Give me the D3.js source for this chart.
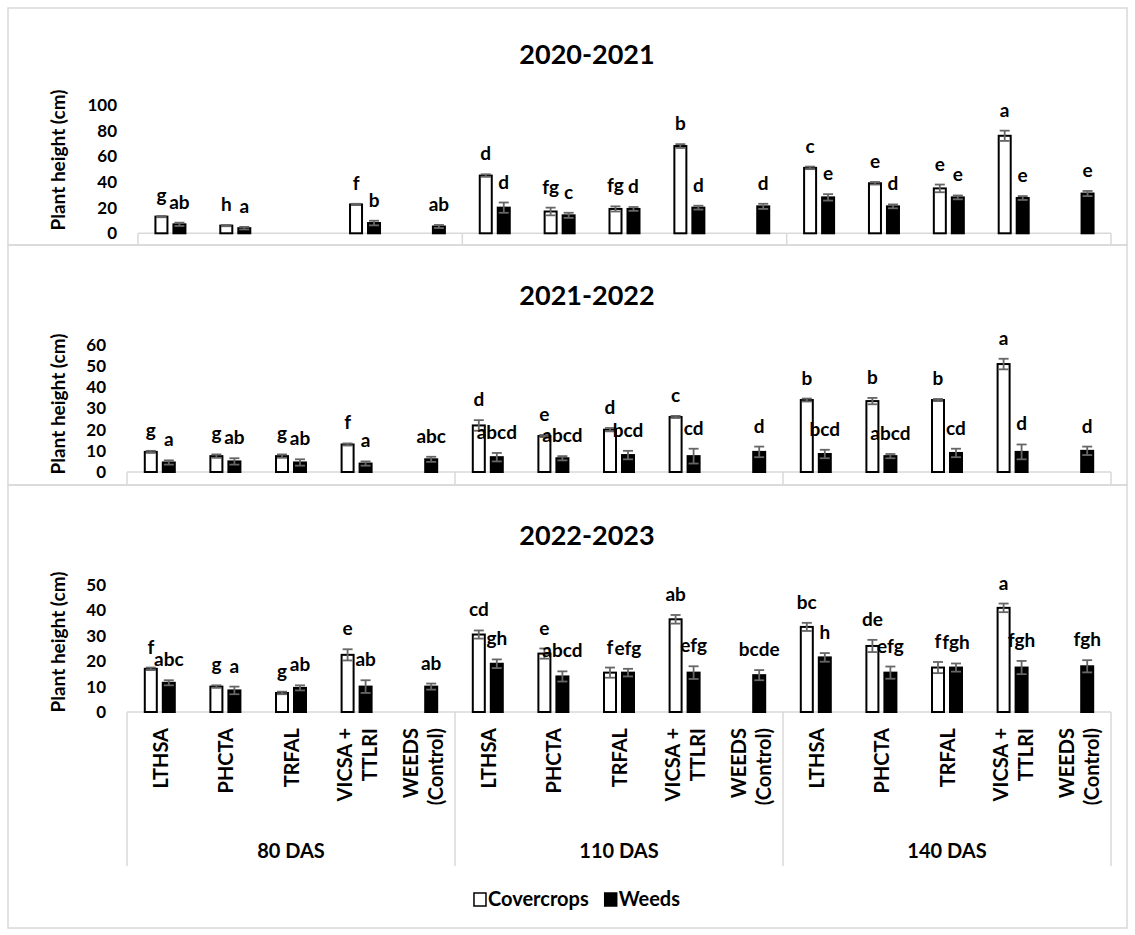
<!DOCTYPE html>
<html>
<head>
<meta charset="utf-8">
<script src="https://cdn.jsdelivr.net/npm/d3@7"></script>
<style>
  body { margin: 0; background: #fff; }
  text { font-family: Lato, "Open Sans", sans-serif; font-weight: 700; fill: #000; }
</style>
</head>
<body>
<svg id="chart" width="1135" height="935"></svg>
<script>
// ---- categories ----
const groups = ["80 DAS", "110 DAS", "140 DAS"];
const treatments = ["LTHSA", "PHCTA", "TRFAL", "VICSA + TTLRI", "WEEDS (Control)"];
const treatmentLines = [["LTHSA"], ["PHCTA"], ["TRFAL"], ["VICSA +", "TTLRI"], ["WEEDS", "(Control)"]];
const series = ["Covercrops", "Weeds"];
const seasons = ["2020-2021", "2021-2022", "2022-2023"];

// ---- tick labels ----
const ticks2020 = [0, 20, 40, 60, 80, 100];
const ticks2021 = [0, 10, 20, 30, 40, 50, 60];
const ticks2022 = [0, 10, 20, 30, 40, 50];

// ---- 2020-2021 (order: 80 DAS x5, 110 DAS x5, 140 DAS x5) ----
const cover2020    = [13, 6, null, 22.5, null, 45, 17, 19, 68, null, 51, 39, 35, 76, null];
const coverErr2020 = [0.5, 0.5, null, 0.5, null, 1, 3, 2, 1.5, null, 1, 1, 3, 4, null];
const weeds2020    = [7, 4, null, 8, 5.3, 20, 14, 19, 20, 21, 28, 21, 28, 27.5, 31];
const weedsErr2020 = [1.3, 1, null, 1.8, 1.2, 4, 2, 1.5, 1.5, 2, 2.5, 1.5, 1.5, 1.5, 2];
const coverLet2020 = ["g", "h", "", "f", "", "d", "fg", "fg", "b", "", "c", "e", "e", "a", ""];
const weedsLet2020 = ["ab", "a", "", "b", "ab", "d", "c", "d", "d", "d", "e", "d", "e", "e", "e"];

// ---- 2021-2022 ----
const cover2021    = [9.5, 7.5, 7.5, 13, null, 22, 17, 20, 26, null, 34, 33.5, 34, 51, null];
const coverErr2021 = [0.5, 0.8, 0.8, 0.5, null, 2.5, 0.5, 0.8, 0.5, null, 0.7, 1.5, 0.5, 2.5, null];
const weeds2021    = [4.5, 5, 4.5, 4, 6, 7, 6.5, 8, 7.5, 9.5, 8.5, 7.5, 9, 9.5, 10];
const weedsErr2021 = [1, 1.5, 1.5, 1, 1.2, 2, 1, 2, 3.5, 2.5, 2, 1, 2, 3.5, 2];
const coverLet2021 = ["g", "g", "g", "f", "", "d", "e", "d", "c", "", "b", "b", "b", "a", ""];
const weedsLet2021 = ["a", "ab", "ab", "a", "abc", "abcd", "abcd", "bcd", "cd", "d", "bcd", "abcd", "cd", "d", "d"];

// ---- 2022-2023 ----
const cover2022    = [17, 10, 7.5, 22.5, null, 30.5, 23, 15.5, 36.5, null, 33.5, 26, 17.5, 41, null];
const coverErr2022 = [0.5, 0.5, 0.5, 2.2, null, 1.6, 2, 2, 1.7, null, 1.6, 2.4, 2.2, 1.7, null];
const weeds2022    = [11.5, 8.5, 9.5, 10, 10, 19, 14, 15.5, 15.5, 14.5, 21.5, 15.5, 17.5, 17.5, 18];
const weedsErr2022 = [1, 1.5, 1, 2.5, 1.2, 1.7, 2, 1.5, 2.5, 2, 1.7, 2.4, 1.6, 2.6, 2.4];
const coverLet2022 = ["f", "g", "g", "e", "", "cd", "e", "f", "ab", "", "bc", "de", "f", "a", ""];
const weedsLet2022 = ["abc", "a", "ab", "ab", "ab", "gh", "abcd", "efg", "efg", "bcde", "h", "efg", "fgh", "fgh", "fgh"];

const seasonData = [
  { cover: cover2020, coverErr: coverErr2020, weeds: weeds2020, weedsErr: weedsErr2020, coverLet: coverLet2020, weedsLet: weedsLet2020, ticks: ticks2020 },
  { cover: cover2021, coverErr: coverErr2021, weeds: weeds2021, weedsErr: weedsErr2021, coverLet: coverLet2021, weedsLet: weedsLet2021, ticks: ticks2021 },
  { cover: cover2022, coverErr: coverErr2022, weeds: weeds2022, weedsErr: weedsErr2022, coverLet: coverLet2022, weedsLet: weedsLet2022, ticks: ticks2022 }
];

// ---- panel geometry ----
const panelLayout = [
  { top: 8,   bottom: 245, left: 138, base: 233.3, peak: 105, titleY: 64,  labelY: 160 },
  { top: 245, bottom: 485, left: 127, base: 472,   peak: 345, titleY: 305, labelY: 404 },
  { top: 485, bottom: 928, left: 127, base: 712,   peak: 585, titleY: 545, labelY: 642 }
];
const frameLeft = 8, frameRight = 1127, plotRight = 1111;
const gridGray = "#d9d9d9";
const errColor = "#666";

const svg = d3.select("#chart");

seasons.forEach((season, p) => {
  const L = panelLayout[p];
  const D = seasonData[p];
  const g = svg.append("g");

  // panel frame
  g.append("rect")
    .attr("x", frameLeft).attr("y", L.top)
    .attr("width", frameRight - frameLeft).attr("height", L.bottom - L.top)
    .attr("fill", "none").attr("stroke", gridGray).attr("stroke-width", 1.5);

  const x0 = d3.scaleBand().domain(groups).range([L.left, plotRight]).paddingInner(0).paddingOuter(0);
  const x1 = d3.scaleBand().domain(treatments).range([0, x0.bandwidth()]);
  const x2 = d3.scaleBand().domain(series).range([-15, 15]).paddingInner(1 / 3);
  const yMax = D.ticks[D.ticks.length - 1];
  const y = d3.scaleLinear().domain([0, yMax]).range([L.base, L.peak]);

  // title
  g.append("text").attr("x", 587).attr("y", L.titleY)
    .attr("text-anchor", "middle").style("font-size", "27px").text(season);

  // y-axis title
  g.append("text")
    .attr("transform", `translate(57,${L.labelY}) rotate(-90)`)
    .attr("text-anchor", "middle").attr("dominant-baseline", "central")
    .style("font-size", "19px").text("Plant height (cm)");

  // y axis (labels only)
  const ay = g.append("g").attr("transform", `translate(${L.left},0)`)
    .call(d3.axisLeft(y).tickValues(D.ticks).tickSize(0).tickPadding(21).tickFormat(d3.format("d")));
  ay.select(".domain").remove();
  ay.selectAll("text").style("font-size", "17px").style("font-family", "Lato, 'Open Sans', sans-serif")
    .style("font-weight", 700).attr("fill", "#000");

  // category axis frame: baseline + group separators
  const sepBottom = p === 2 ? 866 : L.bottom;
  g.append("line").attr("x1", L.left).attr("x2", plotRight)
    .attr("y1", L.base).attr("y2", L.base).attr("stroke", gridGray).attr("stroke-width", 1.5);
  const seps = groups.map(gr => x0(gr)).concat([plotRight]);
  g.selectAll(".sep").data(seps).join("line")
    .attr("x1", d => d).attr("x2", d => d)
    .attr("y1", L.base).attr("y2", sepBottom)
    .attr("stroke", gridGray).attr("stroke-width", 1.5);

  // flattened rows
  const rows = [];
  groups.forEach((gr, gi) => treatments.forEach((tr, ti) => {
    const i = gi * treatments.length + ti;
    rows.push({ group: gr, treat: tr, s: "Covercrops", v: D.cover[i], e: D.coverErr[i], lab: D.coverLet[i] });
    rows.push({ group: gr, treat: tr, s: "Weeds", v: D.weeds[i], e: D.weedsErr[i], lab: D.weedsLet[i] });
  }));
  const present = rows.filter(r => r.v !== null);
  const cx = r => x0(r.group) + x1(r.treat) + x1.bandwidth() / 2 + x2(r.s) + x2.bandwidth() / 2;

  // bars
  g.selectAll(".bar").data(present).join("rect")
    .attr("x", r => cx(r) - x2.bandwidth() / 2)
    .attr("width", x2.bandwidth())
    .attr("y", r => y(r.v))
    .attr("height", r => y(0) - y(r.v))
    .attr("fill", r => r.s === "Covercrops" ? "#fff" : "#000")
    .attr("stroke", "#000").attr("stroke-width", 2);

  // error bars
  const capW = 5;
  const eb = g.selectAll(".err").data(present).join("g").attr("stroke", errColor).attr("stroke-width", 1.8);
  eb.append("line").attr("x1", cx).attr("x2", cx)
    .attr("y1", r => y(Math.max(0, r.v - r.e))).attr("y2", r => y(r.v + r.e));
  eb.append("line").attr("x1", r => cx(r) - capW).attr("x2", r => cx(r) + capW)
    .attr("y1", r => y(r.v + r.e)).attr("y2", r => y(r.v + r.e));
  eb.append("line").attr("x1", r => cx(r) - capW).attr("x2", r => cx(r) + capW)
    .attr("y1", r => y(Math.max(0, r.v - r.e))).attr("y2", r => y(Math.max(0, r.v - r.e)));

  // significance letters
  g.selectAll(".lab").data(present.filter(r => r.lab)).join("text")
    .attr("x", cx).attr("y", r => y(r.v + r.e) - 14)
    .attr("text-anchor", "middle").style("font-size", "19px")
    .text(r => r.lab);

  // category labels shown on the bottom panel
  if (p === 2) {
    groups.forEach(gr => {
      treatments.forEach((tr, ti) => {
        const lines = treatmentLines[ti];
        const c = x0(gr) + x1(tr) + x1.bandwidth() / 2;
        const gap = 25;
        lines.forEach((ln, li) => {
          const off = (li - (lines.length - 1) / 2) * gap;
          g.append("text")
            .attr("transform", `translate(${c + off},728) rotate(-90)`)
            .attr("text-anchor", "end").attr("dominant-baseline", "central")
            .style("font-size", "20px").text(ln);
        });
      });
      g.append("text").attr("x", x0(gr) + x0.bandwidth() / 2).attr("y", 858)
        .attr("text-anchor", "middle").style("font-size", "20px").text(gr);
    });

    // legend
    const lg = g.append("g");
    let lx = 0;
    series.forEach((s, si) => {
      const item = lg.append("g").attr("transform", `translate(${lx},0)`);
      item.append("rect").attr("x", 0).attr("y", -13).attr("width", 12).attr("height", 13)
        .attr("fill", si === 0 ? "#fff" : "#000").attr("stroke", "#000").attr("stroke-width", 1.5);
      const t = item.append("text").attr("x", 14).attr("y", 0).style("font-size", "20px").text(s);
      lx += 14 + t.node().getComputedTextLength() + 16;
    });
    const lw = lx - 16;
    lg.attr("transform", `translate(${577 - lw / 2},906)`);
  }
});
</script>
</body>
</html>
